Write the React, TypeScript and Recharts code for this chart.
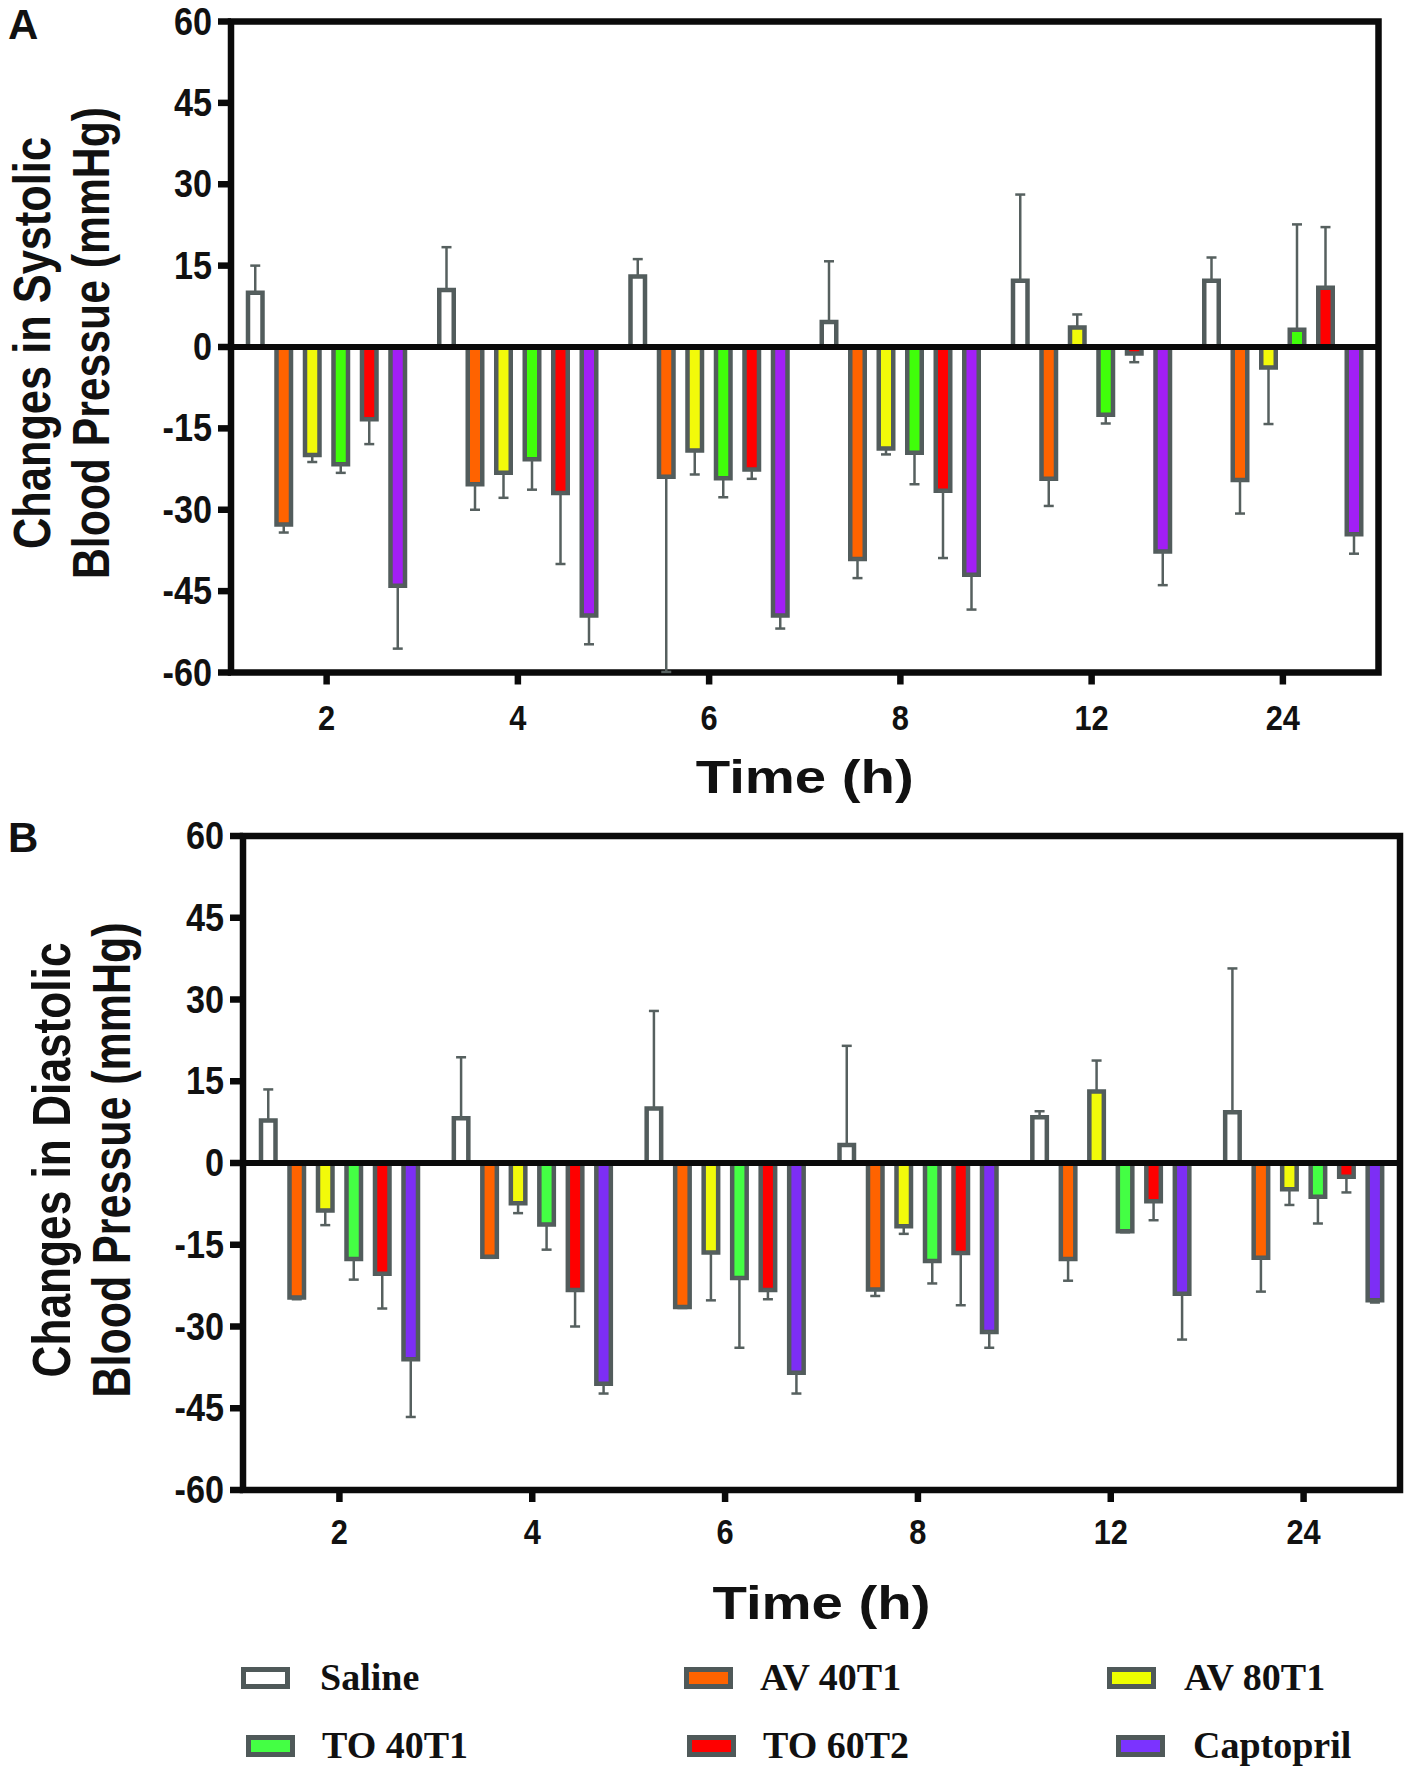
import { BarChart, Bar, XAxis, YAxis, ErrorBar, ReferenceLine, ReferenceArea } from "recharts";

const SANS = "'Liberation Sans', Arial, sans-serif";
const SERIF = "'Liberation Serif', 'Times New Roman', serif";
const EDGE = "#525c5c";

const TIMES = ["2", "4", "6", "8", "12", "24"];
const Y_TICKS = [-60, -45, -30, -15, 0, 15, 30, 45, 60];
const KEYS = ["saline", "av40", "av80", "to40", "to60", "capt"] as const;
const NAMES = ["Saline", "AV 40T1", "AV 80T1", "TO 40T1", "TO 60T2", "Captopril"];

// panel A - systolic (mean change, one-sided error magnitude)
const sysSaline = [10, 10.5, 13, 4.6, 12.2, 12.2];
const sysSalineErr = [5, 7.9, 3.2, 11.2, 15.9, 4.3];
const sysAv40 = [-32.7, -25.3, -23.9, -39.1, -24.3, -24.5];
const sysAv40Err = [1.5, 4.7, 36, 3.5, 5, 6.2];
const sysAv80 = [-19.9, -23.2, -19.1, -18.7, 3.6, -3.8];
const sysAv80Err = [1.3, 4.6, 4.4, 1.1, 2.4, 10.4];
const sysTo40 = [-21.6, -20.7, -24.2, -19.5, -12.5, 3.2];
const sysTo40Err = [1.6, 5.6, 3.5, 5.8, 1.6, 19.4];
const sysTo60 = [-13.3, -26.9, -22.6, -26.5, -1.2, 10.9];
const sysTo60Err = [4.6, 13.1, 1.7, 12.4, 1.6, 11.2];
const sysCapt = [-44, -49.5, -49.5, -42, -37.7, -34.5];
const sysCaptErr = [11.6, 5.3, 2.4, 6.4, 6.2, 3.6];

// panel B - diastolic
const diaSaline = [7.8, 8.2, 10, 3.3, 8.4, 9.3];
const diaSalineErr = [5.7, 11.2, 17.9, 18.2, 1.1, 26.4];
const diaAv40 = [-24.7, -17.2, -26.4, -23.2, -17.6, -17.4];
const diaAv40Err = [0.3, 0.2, 0.2, 1.2, 4, 6.2];
const diaAv80 = [-8.7, -7.4, -16.4, -11.6, 13.1, -4.8];
const diaAv80Err = [2.7, 1.8, 8.8, 1.4, 5.7, 2.9];
const diaTo40 = [-17.6, -11.3, -21.1, -18, -12.5, -6.2];
const diaTo40Err = [3.8, 4.6, 12.8, 4.1, 0.2, 4.9];
const diaTo60 = [-20.3, -23.3, -23.3, -16.5, -7, -2.5];
const diaTo60Err = [6.4, 6.7, 1.7, 9.6, 3.5, 2.9];
const diaCapt = [-36, -40.5, -38.5, -31, -24, -25.2];
const diaCaptErr = [10.6, 1.8, 3.8, 2.9, 8.4, 0.4];

const COLORS_A = ["#ffffff", "#ff6300", "#f2fa0a", "#40ff0a", "#ff0000", "#a21ff5"];
const COLORS_B = ["#ffffff", "#ff6300", "#f2fa0a", "#44ff44", "#ff0000", "#7d2ef5"];
const LEGEND_COLORS = ["#ffffff", "#ff6300", "#eeff00", "#44ff44", "#ff0000", "#7b33ff"];

function buildRows(vals: number[][], errs: number[][]) {
  return TIMES.map((t, i) => {
    const row: Record<string, any> = { time: t };
    KEYS.forEach((k, j) => {
      const v = vals[j][i];
      const e = errs[j][i];
      row[k] = v;
      // error only drawn away from zero
      row[k + "Err"] = v >= 0 ? [0, e] : [e, 0];
    });
    return row;
  });
}

const rowsA = buildRows(
  [sysSaline, sysAv40, sysAv80, sysTo40, sysTo60, sysCapt],
  [sysSalineErr, sysAv40Err, sysAv80Err, sysTo40Err, sysTo60Err, sysCaptErr]
);
const rowsB = buildRows(
  [diaSaline, diaAv40, diaAv80, diaTo40, diaTo60, diaCapt],
  [diaSalineErr, diaAv40Err, diaAv80Err, diaTo40Err, diaTo60Err, diaCaptErr]
);

function YTick({ x, y, payload }: any) {
  return (
    <text transform={`translate(${x},${y}) scale(0.9,1)`} textAnchor="end" dy={13} fontSize={38} fontWeight={700} fontFamily={SANS} fill="#111">
      {payload.value}
    </text>
  );
}

function XTick({ x, y, payload }: any) {
  return (
    <text transform={`translate(${x},${y}) scale(0.88,1)`} textAnchor="middle" dy={25} fontSize={35} fontWeight={700} fontFamily={SANS} fill="#111">
      {payload.value}
    </text>
  );
}

type PanelProps = {
  rows: any[];
  colors: string[];
  top: number;
  height: number;
  margin: { top: number; right: number; bottom: number; left: number };
  xTickMargin: number;
  titleLines: string[];
  titleX: number[];
  titleLen: number[];
  titleY: number;
  titleSize: number;
  timeX: number;
  timeY: number;
};

function Panel(p: PanelProps) {
  return (
    <div style={{ position: "absolute", left: 0, top: p.top }}>
      <BarChart width={1411} height={p.height} data={p.rows} margin={p.margin} barSize={14.5} barGap={14}>
        <XAxis
          dataKey="time"
          interval={0}
          height={100}
          axisLine={false}
          tickSize={12}
          tickMargin={p.xTickMargin}
          tickLine={{ stroke: "#0a0a0a", strokeWidth: 6.5 }}
          tick={<XTick />}
          label={{
            content: () => (
              <text x={p.timeX} y={p.timeY} textAnchor="middle" fontSize={46} fontWeight={700} fontFamily={SANS} fill="#111" textLength={218} lengthAdjust="spacingAndGlyphs">
                Time (h)
              </text>
            ),
          }}
        />
        <YAxis
          width={120}
          domain={[-60, 60]}
          ticks={Y_TICKS}
          allowDataOverflow
          axisLine={false}
          tickSize={13}
          tickMargin={6}
          tickLine={{ stroke: "#0a0a0a", strokeWidth: 6.5 }}
          tick={<YTick />}
          label={{
            content: () => (
              <g>
                {p.titleLines.map((t, i) => (
                  <text key={t} x={0} y={0} transform={`translate(${p.titleX[i]},${p.titleY}) rotate(-90)`} textAnchor="middle"
                    fontSize={p.titleSize} fontWeight={700} fontFamily={SANS} fill="#111" textLength={p.titleLen[i]} lengthAdjust="spacingAndGlyphs">
                    {t}
                  </text>
                ))}
              </g>
            ),
          }}
        />
        {KEYS.map((k, j) => (
          <Bar key={k} dataKey={k} fill={p.colors[j]} stroke={EDGE} strokeWidth={4.5} isAnimationActive={false}>
            <ErrorBar dataKey={k + "Err"} direction="y" width={5} stroke="#56605f" strokeWidth={2.5} />
          </Bar>
        ))}
        <ReferenceLine y={0} stroke="#0a0a0a" strokeWidth={6} />
        <ReferenceArea y1={-60} y2={60} fill="none" fillOpacity={0} stroke="#0a0a0a" strokeWidth={6.5} />
      </BarChart>
    </div>
  );
}

const LEGEND_POS = [
  { sx: 241, sy: 1667, tx: 320, ty: 1690 },
  { sx: 684, sy: 1667, tx: 760, ty: 1690 },
  { sx: 1107, sy: 1667, tx: 1184, ty: 1690 },
  { sx: 246, sy: 1735, tx: 322, ty: 1758 },
  { sx: 687, sy: 1735, tx: 763, ty: 1758 },
  { sx: 1116, sy: 1735, tx: 1193, ty: 1758 },
];

export default function App() {
  return (
    <div style={{ position: "absolute", left: 0, top: 0, width: 1411, height: 1770, background: "#fff", overflow: "hidden" }}>
      <Panel
        rows={rowsA}
        colors={COLORS_A}
        top={0}
        height={830}
        margin={{ top: 21.5, right: 32.5, bottom: 57.5, left: 111 }}
        xTickMargin={20.5}
        titleLines={["Changes in Systolic", "Blood Pressue (mmHg)"]}
        titleX={[50, 109]}
        titleLen={[412, 472]}
        titleY={343}
        titleSize={52}
        timeX={804.75}
        timeY={793}
      />
      <Panel
        rows={rowsB}
        colors={COLORS_B}
        top={800}
        height={850}
        margin={{ top: 36, right: 11, bottom: 60, left: 123 }}
        xTickMargin={16.5}
        titleLines={["Changes in Diastolic", "Blood Pressue (mmHg)"]}
        titleX={[70, 130]}
        titleLen={[435, 475]}
        titleY={360}
        titleSize={53}
        timeX={821.5}
        timeY={819}
      />
      <svg width={1411} height={1770} style={{ position: "absolute", left: 0, top: 0, pointerEvents: "none" }}>
        <text x={8} y={39} fontSize={42} fontWeight={700} fontFamily={SANS} fill="#111">A</text>
        <text x={8} y={852} fontSize={42} fontWeight={700} fontFamily={SANS} fill="#111">B</text>
        {NAMES.map((n, i) => {
          const q = LEGEND_POS[i];
          return (
            <g key={n}>
              <rect x={q.sx + 2.5} y={q.sy + 2.5} width={44} height={17} fill={LEGEND_COLORS[i]} stroke="#4f5959" strokeWidth={5} />
              <text x={q.tx} y={q.ty} fontSize={38} fontWeight={700} fontFamily={SERIF} fill="#111">{n}</text>
            </g>
          );
        })}
      </svg>
    </div>
  );
}
